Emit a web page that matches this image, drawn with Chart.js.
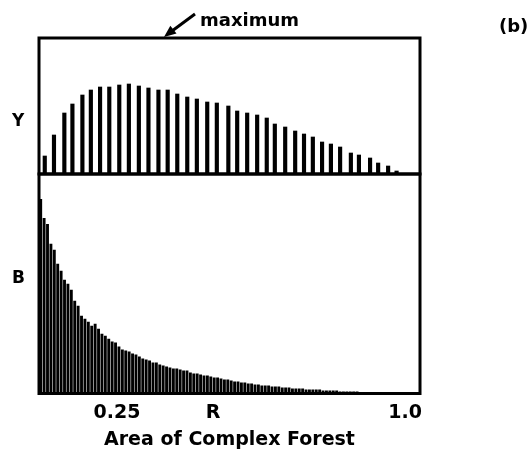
<!DOCTYPE html>
<html>
<head>
<meta charset="utf-8">
<script src="https://cdn.jsdelivr.net/npm/chart.js@4.4.1/dist/chart.umd.min.js"></script>
<style>
    body { margin: 0; background: #fff; }
    #wrap { position: relative; width: 531px; height: 455px; overflow: hidden; }
    canvas { position: absolute; left: 0; top: 0; }
    .lbl { position: absolute; font-family: "DejaVu Sans", sans-serif; font-weight: bold; color: #000; line-height: 1; white-space: nowrap; }
</style>
</head>
<body>
<div id="wrap">
    <canvas id="topChart" width="531" height="455"></canvas>
    <canvas id="bottomChart" width="531" height="455"></canvas>
    <div class="lbl" style="left:200px; top:11px; font-size:18px;">maximum</div>
    <div class="lbl" style="left:499px; top:17px; font-size:18px;">(b)</div>
    <div class="lbl" style="left:12px; top:112px; font-size:17px;">Y</div>
    <div class="lbl" style="left:12px; top:269px; font-size:17px;">B</div>
</div>
<script>
// Top panel (Y): bar positions along R and their heights
const topR = [0.062, 0.086, 0.113, 0.134, 0.160, 0.182, 0.206, 0.230, 0.256, 0.281,
              0.307, 0.332, 0.358, 0.382, 0.407, 0.433, 0.458, 0.485, 0.510, 0.540,
              0.563, 0.589, 0.615, 0.640, 0.661, 0.688, 0.714, 0.737, 0.760, 0.784,
              0.807, 0.831, 0.859, 0.880, 0.909, 0.930, 0.956, 0.978];
const topY = [18, 39, 61, 70, 79, 84, 87, 87, 89, 90,
              88, 86, 84, 84, 80, 77, 75, 72, 71, 68,
              63, 61, 59, 56, 50, 47, 43, 40, 37, 32,
              30, 27, 21, 19, 16, 11, 8, 3];

// Bottom panel (B): dense bars, one per bin
const bottomB = [195, 176, 170, 150, 144, 130, 123, 114, 110, 104,
                 93, 88, 78, 75, 72, 68, 70, 65, 60, 58,
                 55, 52, 51, 47, 44, 43, 42, 40, 39, 37,
                 35, 34, 33, 31, 31, 29, 28, 27, 26, 25,
                 25, 24, 23, 23, 21, 20, 20, 19, 18, 18,
                 17, 16, 16, 15, 14, 14, 13, 12, 12, 11,
                 11, 10, 10, 9, 9, 8, 8, 8, 7, 7,
                 7, 6, 6, 6, 5, 5, 5, 5, 4, 4,
                 4, 4, 4, 3, 3, 3, 3, 3, 2, 2,
                 2, 2, 2, 2, 1, 1, 1, 1, 1, 1,
                 1, 0, 0, 0, 0, 0, 0, 0, 0, 0,
                 0, 0];

// Axis ticks along R
const xTicks = [0.25, 0.5, 1.0];
const xTickLabels = ['0.25', 'R', '1.0'];
const rMin = 0.047;
const rMax = 1.039;

const FONT = '"DejaVu Sans", sans-serif';

const framePlugin = {
    id: 'frame',
    afterDatasetsDraw(chart) {
        const { ctx, chartArea: { left, top, right, bottom } } = chart;
        ctx.save();
        ctx.strokeStyle = '#000';
        ctx.lineWidth = 3;
        ctx.strokeRect(left, top, right - left, bottom - top);
        ctx.restore();
    }
};

const arrowPlugin = {
    id: 'arrow',
    afterDraw(chart) {
        const ctx = chart.ctx;
        ctx.save();
        ctx.strokeStyle = '#000';
        ctx.fillStyle = '#000';
        ctx.lineWidth = 3;
        ctx.beginPath();
        ctx.moveTo(195, 14);
        ctx.lineTo(172, 31);
        ctx.stroke();
        ctx.beginPath();
        ctx.moveTo(164, 37);
        ctx.lineTo(176.5, 33.5);
        ctx.lineTo(170.3, 25.7);
        ctx.closePath();
        ctx.fill();
        ctx.restore();
    }
};

new Chart(document.getElementById('topChart'), {
    type: 'bar',
    data: {
        datasets: [{
            data: topR.map((r, i) => ({ x: r, y: topY[i] })),
            backgroundColor: '#000',
            barThickness: 3.5
        }]
    },
    options: {
        responsive: false,
        animation: false,
        layout: { padding: { left: 39, right: 111, top: 38, bottom: 281 } },
        scales: {
            x: { type: 'linear', min: rMin, max: rMax, offset: false, display: false },
            y: { min: 0, max: 136, display: false }
        },
        plugins: { legend: { display: false }, tooltip: { enabled: false } }
    },
    plugins: [framePlugin, arrowPlugin]
});

new Chart(document.getElementById('bottomChart'), {
    type: 'bar',
    data: {
        labels: bottomB.map((_, i) => String(i)),
        datasets: [{
            data: bottomB,
            xAxisID: 'xb',
            backgroundColor: '#000',
            barPercentage: 0.85,
            categoryPercentage: 1
        }]
    },
    options: {
        responsive: false,
        animation: false,
        layout: { padding: { left: 39, right: 111, top: 174, bottom: 8.5 } },
        scales: {
            xb: { type: 'category', display: false },
            x: {
                type: 'linear',
                position: 'bottom',
                min: rMin,
                max: rMax,
                offset: false,
                afterBuildTicks: (axis) => {
                    axis.ticks = xTicks.map(v => ({ value: v }));
                },
                grid: { display: false, drawTicks: false },
                border: { display: false },
                ticks: {
                    autoSkip: false,
                    maxRotation: 0,
                    padding: 10.5,
                    color: '#000',
                    font: { family: FONT, size: 19, weight: 'bold', lineHeight: 1 },
                    callback: (v) => xTickLabels[xTicks.indexOf(v)]
                },
                title: {
                    display: true,
                    text: 'Area of Complex Forest',
                    color: '#000',
                    padding: { top: 0, bottom: 0 },
                    font: { family: FONT, size: 19, weight: 'bold', lineHeight: 0.684 }
                }
            },
            y: { min: 0, max: 220, display: false }
        },
        plugins: { legend: { display: false }, tooltip: { enabled: false } }
    },
    plugins: [framePlugin]
});
</script>
</body>
</html>
